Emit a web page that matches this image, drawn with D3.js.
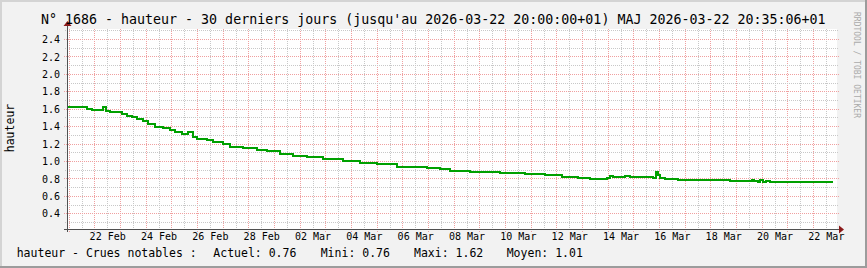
<!DOCTYPE html>
<html><head><meta charset="utf-8">
<script src="https://cdn.jsdelivr.net/npm/d3@7"></script>
<style>body{margin:0;background:#f2f2f2} svg{display:block}</style>
</head><body><svg id="c" width="867" height="268"></svg>
<script>
const times = ["2026-02-20T22:26","2026-02-21T17:10","2026-02-21T21:50","2026-02-22T05:20","2026-02-22T08:10","2026-02-22T10:55","2026-02-22T14:40","2026-02-23T01:55","2026-02-23T06:35","2026-02-23T11:15","2026-02-23T15:55","2026-02-23T21:30","2026-02-24T02:10","2026-02-24T08:45","2026-02-24T16:15","2026-02-24T22:45","2026-02-25T03:30","2026-02-25T10:00","2026-02-25T15:35","2026-02-25T20:20","2026-02-26T00:00","2026-02-26T09:25","2026-02-26T15:00","2026-02-27T00:20","2026-02-27T06:55","2026-02-27T19:00","2026-02-28T08:10","2026-02-28T17:30","2026-03-01T05:40","2026-03-01T17:50","2026-03-02T06:55","2026-03-02T21:55","2026-03-03T16:35","2026-03-04T08:30","2026-03-05T00:25","2026-03-05T15:20","2026-03-05T19:00","2026-03-06T23:00","2026-03-07T11:10","2026-03-07T20:35","2026-03-08T15:20","2026-03-09T19:20","2026-03-10T18:40","2026-03-11T13:25","2026-03-12T05:20","2026-03-12T20:20","2026-03-13T07:30","2026-03-13T23:25","2026-03-14T02:10","2026-03-14T05:00","2026-03-14T16:10","2026-03-14T20:55","2026-03-15T18:25","2026-03-15T20:45","2026-03-15T23:05","2026-03-16T00:55","2026-03-16T05:35","2026-03-16T17:45","2026-03-18T18:25","2026-03-19T15:00","2026-03-19T16:25","2026-03-19T20:35","2026-03-19T22:30","2026-03-20T01:20","2026-03-20T04:05","2026-03-20T07:50","2026-03-21T21:10","2026-03-22T18:40"];
const values = [1.62,1.60,1.59,1.58,1.615,1.575,1.56,1.54,1.52,1.50,1.48,1.46,1.43,1.395,1.375,1.355,1.33,1.31,1.33,1.27,1.255,1.24,1.22,1.19,1.165,1.145,1.13,1.11,1.085,1.06,1.045,1.02,1.00,0.98,0.962,0.97,0.935,0.915,0.905,0.885,0.875,0.865,0.85,0.84,0.82,0.81,0.797,0.81,0.828,0.82,0.83,0.82,0.81,0.877,0.84,0.81,0.797,0.782,0.771,0.782,0.771,0.76,0.782,0.765,0.771,0.765,0.757,0.757];
const yTickValues = [0.4,0.6,0.8,1.0,1.2,1.4,1.6,1.8,2.0,2.2,2.4];
const yTickLabels = ["0.4","0.6","0.8","1.0","1.2","1.4","1.6","1.8","2.0","2.2","2.4"];
const xTickDates = ["2026-02-22","2026-02-24","2026-02-26","2026-02-28","2026-03-02","2026-03-04","2026-03-06","2026-03-08","2026-03-10","2026-03-12","2026-03-14","2026-03-16","2026-03-18","2026-03-20","2026-03-22"];
const xTickLabels = ["22 Feb","24 Feb","26 Feb","28 Feb","02 Mar","04 Mar","06 Mar","08 Mar","10 Mar","12 Mar","14 Mar","16 Mar","18 Mar","20 Mar","22 Mar"];
const titleText = "N° 1686 - hauteur - 30 derniers jours (jusqu'au 2026-03-22 20:00:00+01) MAJ 2026-03-22 20:35:06+01";
const yLabel = "hauteur";
const legendLabels = ["hauteur - Crues notables :", "Actuel: 0.76", "Mini: 0.76", "Maxi: 1.62", "Moyen: 1.01"];
const watermark = "RRDTOOL / TOBI OETIKER";

const W = 867, H = 268;
const X0 = 67, X1 = 837, Y0 = 229, Y1 = 29;
const parse = s => new Date(s + (s.length === 10 ? "T00:00Z" : "Z"));
const data = times.map((t, i) => ({t: parse(t), v: values[i]}));
const x = d3.scaleUtc().domain([parse("2026-02-20T22:26"), parse("2026-03-22T22:26")]).range([X0, X1]);
const y = d3.scaleLinear().domain([0.22, 2.515]).range([Y0, Y1]);
const mono = "'DejaVu Sans Mono', monospace";

const svg = d3.select("#c");
// background + frame
svg.append("rect").attr("width", W).attr("height", H).attr("fill", "#f2f2f2");
svg.append("rect").attr("x", 0).attr("y", 0).attr("width", W).attr("height", 2).attr("fill", "#d4d4d4");
svg.append("rect").attr("x", 0).attr("y", 0).attr("width", 2).attr("height", H).attr("fill", "#d4d4d4");
svg.append("rect").attr("x", 0).attr("y", H - 2).attr("width", W).attr("height", 2).attr("fill", "#9c9c9c");
svg.append("rect").attr("x", W - 2).attr("y", 0).attr("width", 2).attr("height", H).attr("fill", "#9c9c9c");
// canvas
svg.append("rect").attr("x", X0).attr("y", Y1).attr("width", X1 - X0).attr("height", Y0 - Y1).attr("fill", "#ffffff");

const grid = svg.append("g").attr("shape-rendering", "crispEdges");
const dom = x.domain();
// vertical grid: 12h minor, day major
const minorX = d3.utcHour.every(12).range(dom[0], dom[1]).filter(d => d.getUTCHours() !== 0);
const majorX = d3.utcDay.range(dom[0], dom[1]);
grid.selectAll(".vmin").data(minorX).join("line")
  .attr("x1", d => Math.round(x(d)) + 0.5).attr("x2", d => Math.round(x(d)) + 0.5)
  .attr("y1", Y1).attr("y2", Y0 + 2)
  .attr("stroke", "#c8c8c8").attr("stroke-dasharray", "1,1");
grid.selectAll(".vmaj").data(majorX).join("line")
  .attr("x1", d => Math.round(x(d)) + 0.5).attr("x2", d => Math.round(x(d)) + 0.5)
  .attr("y1", Y1).attr("y2", Y0 + 3)
  .attr("stroke", "#f0a0a0").attr("stroke-dasharray", "1,1");
// horizontal grid
const minorY = d3.range(3, 26).map(i => i / 10).filter(v => Math.round(v * 10) % 2 === 1);
grid.selectAll(".hmin").data(minorY).join("line")
  .attr("x1", X0 - 2).attr("x2", X1 + 2)
  .attr("y1", d => Math.round(y(d)) + 0.5).attr("y2", d => Math.round(y(d)) + 0.5)
  .attr("stroke", "#c8c8c8").attr("stroke-dasharray", "1,1");
grid.selectAll(".hmaj").data(yTickValues).join("line")
  .attr("x1", X0 - 3).attr("x2", X1 + 2)
  .attr("y1", d => Math.round(y(d)) + 0.5).attr("y2", d => Math.round(y(d)) + 0.5)
  .attr("stroke", "#f0a0a0").attr("stroke-dasharray", "1,1");

// data line
svg.append("path").datum(data)
  .attr("d", d3.line().x(d => x(d.t)).y(d => y(d.v)).curve(d3.curveStepAfter))
  .attr("fill", "none").attr("stroke", "#00a000").attr("stroke-width", 2)
  .attr("shape-rendering", "crispEdges");

// axes lines
const axc = "#505050";
svg.append("line").attr("x1", X0 + 0.5).attr("x2", X0 + 0.5).attr("y1", Y0 + 3).attr("y2", Y1 - 4).attr("stroke", axc).attr("shape-rendering", "crispEdges");
svg.append("line").attr("x1", X0 - 3).attr("x2", X1 + 4).attr("y1", Y0 + 0.5).attr("y2", Y0 + 0.5).attr("stroke", axc).attr("shape-rendering", "crispEdges");
svg.append("path").attr("d", `M${X0 - 3.5},${Y1 - 3} L${X0 + 4.5},${Y1 - 3} L${X0 + 0.5},${Y1 - 8} Z`).attr("fill", "#8b1a1a");
svg.append("path").attr("d", `M${X1 + 2},${Y0 - 3.5} L${X1 + 2},${Y0 + 4.5} L${X1 + 7},${Y0 + 0.5} Z`).attr("fill", "#8b1a1a");

// axis labels via d3 axes
const yAxis = d3.axisLeft(y).tickValues(yTickValues).tickFormat((d, i) => yTickLabels[i]).tickSize(0).tickPadding(0);
const gy = svg.append("g").attr("transform", `translate(${X0 - 7},0)`).call(yAxis);
gy.select(".domain").remove();
gy.selectAll("text").attr("font-family", mono).attr("font-size", 10).attr("fill", "#000").attr("dy", "0.36em");

const xMid = xTickDates.map(s => new Date(parse(s).getTime() + 12 * 3600e3));
const xAxis = d3.axisBottom(x).tickValues(xMid).tickFormat((d, i) => xTickLabels[i]).tickSize(0).tickPadding(0);
const gx = svg.append("g").attr("transform", `translate(0,${Y0 + 4})`).call(xAxis);
gx.select(".domain").remove();
gx.selectAll("text").attr("font-family", mono).attr("font-size", 10).attr("fill", "#000").attr("dy", "0.71em");

// title
svg.append("text").attr("x", 41).attr("y", 23.5).attr("font-family", mono).attr("font-size", 13.3)
  .attr("fill", "#000").text(titleText);
// y label
svg.append("text").attr("transform", "translate(13.5,128) rotate(-90)").attr("text-anchor", "middle")
  .attr("font-family", mono).attr("font-size", 11.5).attr("fill", "#000").text(yLabel);
// watermark
svg.append("text").attr("transform", "translate(854,12) rotate(90)").attr("font-family", mono)
  .attr("font-size", 8).attr("fill", "#aaaaaa").text(watermark);
// legend
const legX = [16.7, 213.3, 320.7, 414, 506.7];
svg.selectAll(".leg").data(legendLabels).join("text")
  .attr("x", (d, i) => legX[i]).attr("y", 257).attr("font-family", mono).attr("font-size", 11.5)
  .attr("fill", "#000").attr("xml:space", "preserve").text(d => d);
</script></body></html>
